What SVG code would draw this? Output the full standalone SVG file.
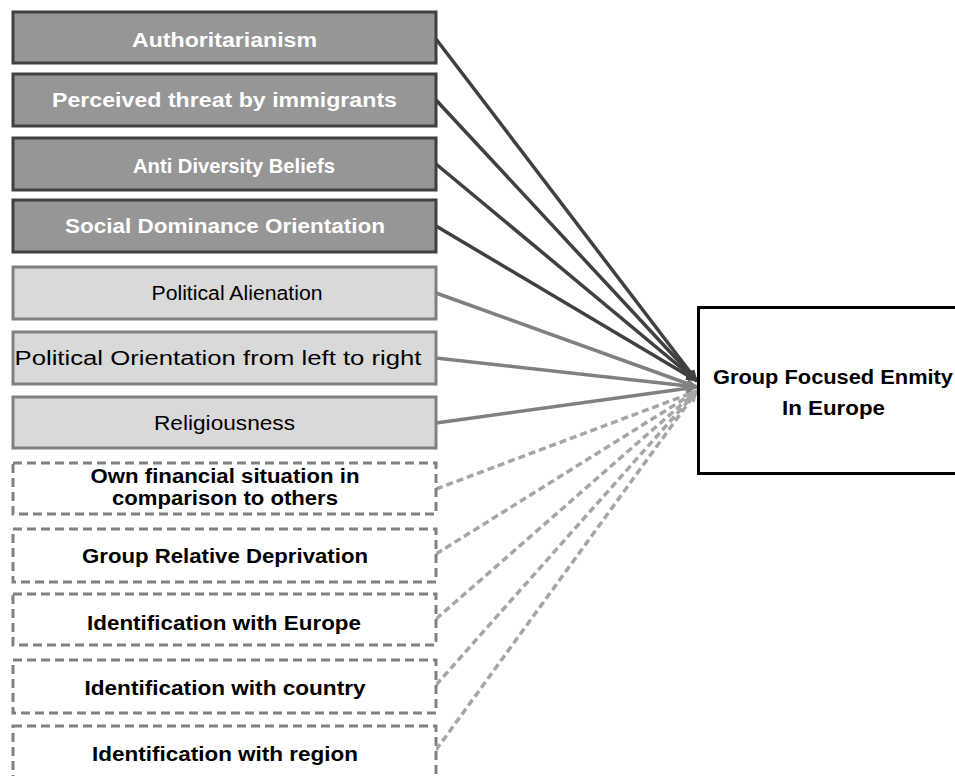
<svg xmlns="http://www.w3.org/2000/svg" width="955" height="776" viewBox="0 0 955 776">
<style>
.bg{fill:#ffffff}
.dark rect{fill:#969696;stroke:#404040;stroke-width:3}
.light rect{fill:#d9d9d9;stroke:#808080;stroke-width:3}
.dash rect{fill:#ffffff;stroke:#808080;stroke-width:3;stroke-dasharray:9,5}
text{font-family:"Liberation Sans",Arial,sans-serif;font-weight:bold;font-size:20px;text-anchor:middle}
.dark text{fill:#ffffff}
.light text{fill:#000000;font-weight:normal;font-size:20px}
.dash text{fill:#000000}
.target rect{fill:#ffffff;stroke:#000000;stroke-width:3}
.target text{fill:#000000;font-size:20px}
.cd{stroke:#404040;stroke-width:3.5;fill:none}
.cl{stroke:#808080;stroke-width:3.5;fill:none}
.cx{stroke:#a6a6a6;stroke-width:3.5;fill:none;stroke-dasharray:7,4}
</style>
<defs>
<marker id="ad" markerUnits="userSpaceOnUse" markerWidth="12" markerHeight="10" refX="11" refY="5" orient="auto"><path d="M0,0 L12,5 L0,10 z" fill="#404040"/></marker>
<marker id="al" markerUnits="userSpaceOnUse" markerWidth="12" markerHeight="10" refX="11" refY="5" orient="auto"><path d="M0,0 L12,5 L0,10 z" fill="#808080"/></marker>
<marker id="ax" markerUnits="userSpaceOnUse" markerWidth="12" markerHeight="10" refX="11" refY="5" orient="auto"><path d="M0,0 L12,5 L0,10 z" fill="#a6a6a6"/></marker>
</defs>
<rect class="bg" x="0" y="0" width="955" height="776"/>

<g id="connectors">
<line class="cx" x1="436" y1="750" x2="697" y2="391" marker-end="url(#ax)"/>
<line class="cx" x1="436" y1="685" x2="697" y2="391" marker-end="url(#ax)"/>
<line class="cx" x1="436" y1="619" x2="697" y2="391" marker-end="url(#ax)"/>
<line class="cx" x1="436" y1="554" x2="697" y2="391" marker-end="url(#ax)"/>
<line class="cx" x1="436" y1="489" x2="697" y2="391" marker-end="url(#ax)"/>
<line class="cl" x1="436" y1="423" x2="697" y2="387" marker-end="url(#al)"/>
<line class="cl" x1="436" y1="358" x2="697" y2="387" marker-end="url(#al)"/>
<line class="cl" x1="436" y1="293" x2="697" y2="387" marker-end="url(#al)"/>
<line class="cd" x1="436" y1="226" x2="697" y2="381" marker-end="url(#ad)"/>
<line class="cd" x1="436" y1="164" x2="697" y2="381" marker-end="url(#ad)"/>
<line class="cd" x1="436" y1="100" x2="697" y2="381" marker-end="url(#ad)"/>
<line class="cd" x1="436" y1="39" x2="697" y2="381" marker-end="url(#ad)"/>
</g>

<g id="n1" class="dark"><rect x="13" y="12" width="423" height="51"/><text x="224.5" y="47" textLength="185" lengthAdjust="spacingAndGlyphs">Authoritarianism</text></g>
<g id="n2" class="dark"><rect x="13" y="74" width="423" height="52"/><text x="224.5" y="107" textLength="345" lengthAdjust="spacingAndGlyphs">Perceived threat by immigrants</text></g>
<g id="n3" class="dark"><rect x="13" y="138" width="423" height="52"/><text x="234" y="173" textLength="202" lengthAdjust="spacingAndGlyphs">Anti Diversity Beliefs</text></g>
<g id="n4" class="dark"><rect x="13" y="200" width="423" height="52"/><text x="225" y="233" textLength="320" lengthAdjust="spacingAndGlyphs">Social Dominance Orientation</text></g>
<g id="n5" class="light"><rect x="13" y="267" width="423" height="52"/><text x="237" y="300" textLength="171" lengthAdjust="spacingAndGlyphs">Political Alienation</text></g>
<g id="n6" class="light"><rect x="13" y="332" width="423" height="52"/><text x="218" y="365" textLength="407" lengthAdjust="spacingAndGlyphs">Political Orientation from left to right</text></g>
<g id="n7" class="light"><rect x="13" y="397" width="423" height="51"/><text x="224.5" y="430" textLength="141" lengthAdjust="spacingAndGlyphs">Religiousness</text></g>
<g id="n8" class="dash"><rect x="13" y="463" width="423" height="51"/><text x="225" y="483" textLength="269" lengthAdjust="spacingAndGlyphs">Own financial situation in</text><text x="225" y="505" textLength="226" lengthAdjust="spacingAndGlyphs">comparison to others</text></g>
<g id="n9" class="dash"><rect x="13" y="529" width="423" height="53"/><text x="225" y="563" textLength="286" lengthAdjust="spacingAndGlyphs">Group Relative Deprivation</text></g>
<g id="n10" class="dash"><rect x="13" y="594" width="423" height="51"/><text x="224" y="630" textLength="274" lengthAdjust="spacingAndGlyphs">Identification with Europe</text></g>
<g id="n11" class="dash"><rect x="13" y="660" width="423" height="53"/><text x="225" y="695" textLength="281" lengthAdjust="spacingAndGlyphs">Identification with country</text></g>
<g id="n12" class="dash"><rect x="13" y="726" width="423" height="54"/><text x="225" y="761" textLength="266" lengthAdjust="spacingAndGlyphs">Identification with region</text></g>

<g id="target" class="target"><rect x="698.5" y="307.5" width="270" height="166"/><text x="833" y="384" textLength="240" lengthAdjust="spacingAndGlyphs">Group Focused Enmity</text><text x="833.5" y="415" textLength="103" lengthAdjust="spacingAndGlyphs">In Europe</text></g>
</svg>
